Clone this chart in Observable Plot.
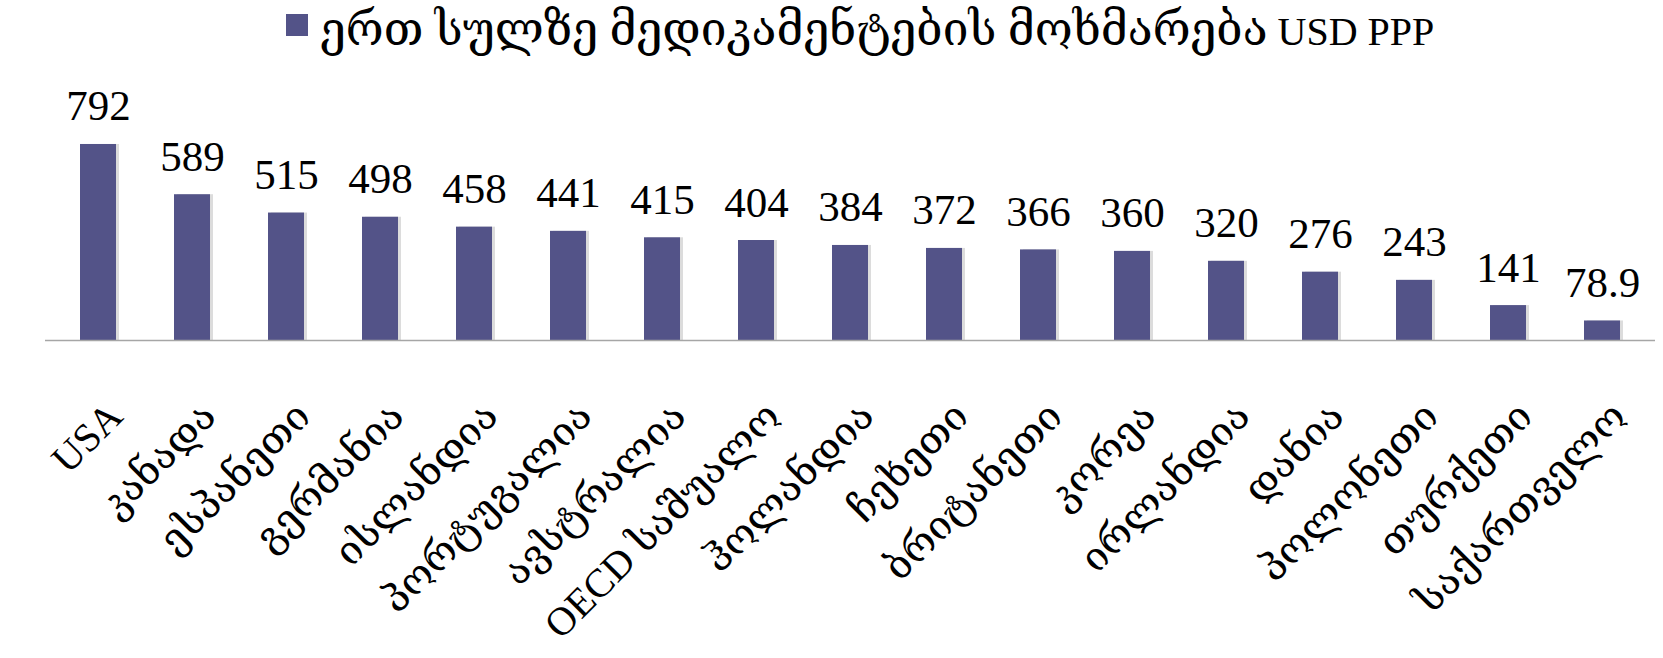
<!DOCTYPE html>
<html><head><meta charset="utf-8">
<script src="https://cdn.jsdelivr.net/npm/d3@7"></script>
<script src="https://cdn.jsdelivr.net/npm/@observablehq/plot@0.6"></script>
<style>
body{margin:0;background:#fff;width:1663px;height:658px;overflow:hidden;font-family:"Liberation Serif","DejaVu Serif",serif}
#legend{position:relative;height:66px}
#legend .sw{position:absolute;left:286px;top:14px;width:22px;height:22px;background:#535388}
#legend .lbl{position:absolute;left:320px;top:0;height:66px;line-height:60px;font-size:40px;white-space:nowrap;color:#000}
#legend .ka{font-size:46px}
</style></head><body>
<div id="legend"><span class="sw"></span><span class="lbl"></span></div>
<div id="chart"></div>
<script>
const categories = ["USA","კანადა","ესპანეთი","გერმანია","ისლანდია","პორტუგალია","ავსტრალია","OECD საშუალო","ჰოლანდია","ჩეხეთი","ბრიტანეთი","კორეა","ირლანდია","დანია","პოლონეთი","თურქეთი","საქართველო"];
const values = [792,589,515,498,458,441,415,404,384,372,366,360,320,276,243,141,78.9];
const valueLabels = ["792","589","515","498","458","441","415","404","384","372","366","360","320","276","243","141","78.9"];
const seriesName = "ერთ სულზე მედიკამენტების მოხმარება USD PPP";
const barColor = "#535388";

// legend: Georgian runs slightly larger to match the original typeface width
const lbl = document.querySelector("#legend .lbl");
seriesName.split(/([\u10A0-\u10FF][\u10A0-\u10FF\s]*[\u10A0-\u10FF])/).forEach(part => {
  if (!part) return;
  if (/[\u10A0-\u10FF]/.test(part)) {
    const s = document.createElement("span");
    s.className = "ka";
    s.textContent = part;
    lbl.appendChild(s);
  } else {
    lbl.appendChild(document.createTextNode(part));
  }
});

const data = categories.map((c, i) => ({category: c, value: values[i], label: valueLabels[i]}));

const chart = Plot.plot({
  width: 1663,
  height: 592,
  marginLeft: 45,
  marginRight: 8,
  marginTop: 76,
  marginBottom: 318,
  style: {fontFamily: '"Liberation Serif","DejaVu Serif",serif', background: "transparent", overflow: "visible"},
  x: {domain: categories, paddingInner: 0.62, paddingOuter: 0.31, axis: null},
  y: {domain: [0, 800], axis: null},
  marks: [
    Plot.barY(data, {x: "category", y: "value", fill: "#dcdcdc", dx: 3}),
    Plot.barY(data, {x: "category", y: "value", fill: barColor}),
    Plot.ruleY([0], {stroke: "#a6a6a6", strokeWidth: 1.5}),
    Plot.text(data, {x: "category", y: "value", text: "label", dy: -24, lineAnchor: "bottom", fontSize: 43, fill: "#000"}),
    Plot.text(data, {x: "category", text: "category", frameAnchor: "bottom", rotate: -45, textAnchor: "end", lineAnchor: "top", dx: 6, dy: 58, fontSize: 40, fill: "#000"})
  ]
});
document.getElementById("chart").appendChild(chart);
</script>
</body></html>
